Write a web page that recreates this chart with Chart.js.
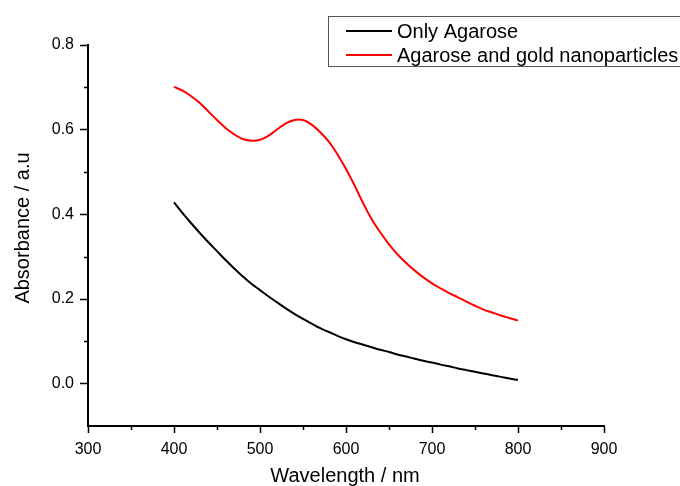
<!DOCTYPE html>
<html>
<head>
<meta charset="utf-8">
<script src="https://cdn.jsdelivr.net/npm/chart.js@4/dist/chart.umd.min.js"></script>
<style>
  html, body { margin: 0; padding: 0; background: #ffffff; }
  #wrap { position: relative; width: 680px; height: 486px; }
  canvas { display: block; }
</style>
</head>
<body>
<div id="wrap"><canvas id="c" width="680" height="486"></canvas></div>
<script>
// ---- data ----
const wavelengths = [400,410,420,430,440,450,460,470,480,490,500,510,520,530,540,550,560,570,580,590,600,
                     610,620,630,640,650,660,670,680,690,700,710,720,730,740,750,760,770,780,790,800];
const onlyAgarose = [0.428,0.403,0.379,0.356,0.334,0.313,0.292,0.272,0.253,0.236,0.221,0.206,0.192,0.178,0.165,0.153,0.142,0.131,0.122,0.113,0.105,
                     0.098,0.092,0.086,0.080,0.075,0.069,0.064,0.059,0.054,0.050,0.045,0.041,0.036,0.032,0.028,0.024,0.020,0.016,0.012,0.009];
const agaroseGold = [0.701,0.692,0.679,0.663,0.643,0.623,0.604,0.589,0.578,0.574,0.576,0.586,0.601,0.615,0.623,0.623,0.612,0.594,0.572,0.542,0.507,
                     0.468,0.426,0.388,0.357,0.329,0.305,0.285,0.267,0.251,0.237,0.225,0.214,0.204,0.194,0.184,0.175,0.168,0.161,0.155,0.149];
const seriesNames = ["Only Agarose", "Agarose and gold nanoparticles"];
const xTicks = [300,400,500,600,700,800,900];
const xMinorTicks = [350,450,550,650,750,850];
const yTicks = [0.0,0.2,0.4,0.6,0.8];
const yMinorTicks = [0.1,0.3,0.5,0.7];
const xTitle = "Wavelength / nm";
const yTitle = "Absorbance / a.u";

const FONT = '"Liberation Sans", Arial, sans-serif';

const toPts = (ys) => wavelengths.map((w, i) => ({ x: w, y: ys[i] }));

const decorPlugin = {
  id: 'decor',
  afterDraw(chart) {
    const ctx = chart.ctx;
    const xs = chart.scales.x, ys = chart.scales.y;
    const area = chart.chartArea;
    ctx.save();
    // minor ticks
    ctx.strokeStyle = '#000';
    ctx.lineWidth = 1.5;
    ctx.beginPath();
    xMinorTicks.forEach(v => {
      const px = Math.round(xs.getPixelForValue(v)) + 0.5;
      ctx.moveTo(px, area.bottom);
      ctx.lineTo(px, area.bottom + 4);
    });
    yMinorTicks.forEach(v => {
      const py = Math.round(ys.getPixelForValue(v)) + 0.5;
      ctx.moveTo(area.left, py);
      ctx.lineTo(area.left - 4, py);
    });
    ctx.stroke();

    // axis titles
    ctx.fillStyle = '#000';
    ctx.font = '20px ' + FONT;
    ctx.textAlign = 'center';
    ctx.textBaseline = 'alphabetic';
    ctx.fillText(xTitle, 345, 482);
    ctx.save();
    ctx.translate(29, 228);
    ctx.rotate(-Math.PI / 2);
    ctx.fillText(yTitle, 0, 0);
    ctx.restore();

    // legend
    ctx.strokeStyle = '#555';
    ctx.lineWidth = 1;
    ctx.strokeRect(328.5, 16.5, 400, 50);
    const colors = ['#000000', '#ff0000'];
    const rows = [31, 55];
    ctx.font = '20px ' + FONT;
    ctx.textAlign = 'left';
    ctx.textBaseline = 'middle';
    rows.forEach((ry, i) => {
      ctx.strokeStyle = colors[i];
      ctx.lineWidth = 2;
      ctx.beginPath();
      ctx.moveTo(346, ry);
      ctx.lineTo(392, ry);
      ctx.stroke();
      ctx.fillStyle = '#000';
      ctx.fillText(seriesNames[i], 397, ry + 1);
    });
    ctx.restore();
  }
};

new Chart(document.getElementById('c'), {
  type: 'line',
  data: {
    datasets: [
      { label: seriesNames[0], data: toPts(onlyAgarose), borderColor: '#000000', borderWidth: 2,
        pointRadius: 0, tension: 0.4, fill: false },
      { label: seriesNames[1], data: toPts(agaroseGold), borderColor: '#ff0000', borderWidth: 2,
        pointRadius: 0, tension: 0.4, fill: false }
    ]
  },
  options: {
    responsive: false,
    animation: false,
    events: [],
    layout: { padding: { top: 45, right: 76, bottom: 0, left: 0 } },
    plugins: { legend: { display: false }, tooltip: { enabled: false }, title: { display: false } },
    scales: {
      x: {
        type: 'linear', min: 300, max: 900,
        afterBuildTicks: (s) => { s.ticks = xTicks.map(v => ({ value: v })); },
        afterFit: (s) => { s.height = 60; },
        border: { display: true, color: '#000', width: 2 },
        grid: { display: true, drawOnChartArea: false, drawTicks: true, tickLength: 7, tickColor: '#000', tickWidth: 1.5 },
        ticks: { color: '#000', font: { family: FONT, size: 16 }, padding: 7, maxRotation: 0, autoSkip: false }
      },
      y: {
        type: 'linear', min: -0.1, max: 0.8,
        afterBuildTicks: (s) => { s.ticks = yTicks.map(v => ({ value: v })); },
        afterFit: (s) => { s.width = 88; },
        border: { display: true, color: '#000', width: 2 },
        grid: { display: true, drawOnChartArea: false, drawTicks: true, tickLength: 8, tickColor: '#000', tickWidth: 1.5 },
        ticks: { color: '#000', font: { family: FONT, size: 16 }, padding: 6, autoSkip: false,
                 callback: (v) => Number(v).toFixed(1) }
      }
    }
  },
  plugins: [decorPlugin]
});
</script>
</body>
</html>
